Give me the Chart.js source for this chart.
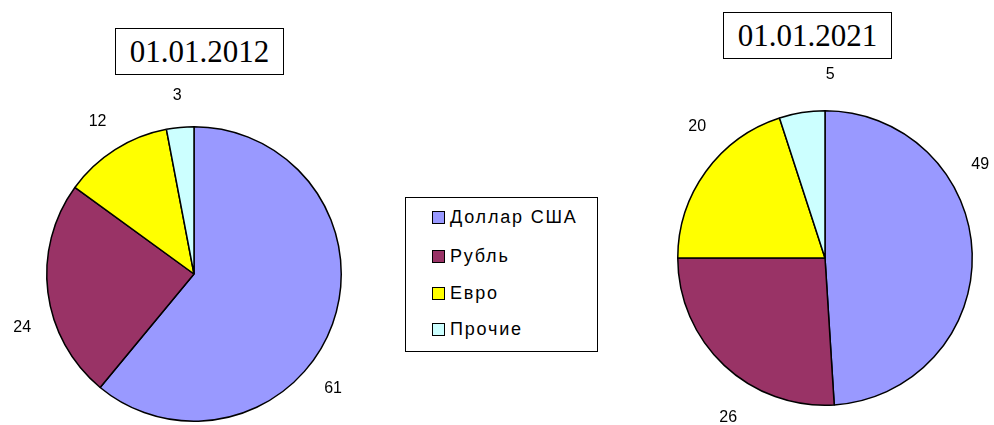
<!DOCTYPE html>
<html>
<head>
<meta charset="utf-8">
<script src="https://cdn.jsdelivr.net/npm/chart.js@4"></script>
<style>
  body { margin: 0; background: #fff; width: 994px; height: 425px; overflow: hidden; position: relative; font-family: "Liberation Sans", Arial, sans-serif; }
  .wrap { position: absolute; width: 400px; height: 400px; }
  .title { position: absolute; border: 1.5px solid #000; font-family: "Liberation Serif", "Times New Roman", serif; font-size: 31px; text-align: center; box-sizing: border-box; width: 169px; height: 47px; line-height: 45px; background: #fff; }
  .legend { position: absolute; left: 405px; top: 197px; width: 193px; height: 155px; border: 1.5px solid #000; box-sizing: border-box; }
  .legend div { position: absolute; left: 26px; font-size: 18px; letter-spacing: 1.8px; height: 22px; line-height: 22px; white-space: nowrap; }
  .legend span { display: inline-block; width: 11px; height: 11px; border: 1.5px solid #000; margin-right: 5px; vertical-align: -1px; }
</style>
</head>
<body>
<div class="wrap" style="left:-6px; top:74px;"><canvas id="chart2012" width="400" height="400"></canvas></div>
<div class="wrap" style="left:625px; top:58px;"><canvas id="chart2021" width="400" height="400"></canvas></div>
<div class="title" style="left:115px; top:28px;">01.01.2012</div>
<div class="title" style="left:723px; top:12px;">01.01.2021</div>
<div class="legend" id="legend"></div>
<script>
const currencies = ['Доллар США', 'Рубль', 'Евро', 'Прочие'];
const shares2012 = [61, 24, 12, 3];
const shares2021 = [49, 26, 20, 5];
const colors = ['#9999ff', '#993366', '#ffff00', '#ccffff'];

// label placement tweaks (degrees shift from mid angle, distance from centre)
const labelPlugin = {
  id: 'sliceLabels',
  afterDatasetsDraw(chart, args, opts) {
    const ctx = chart.ctx;
    const meta = chart.getDatasetMeta(0);
    ctx.save();
    ctx.font = '16px "Liberation Sans", Arial, sans-serif';
    ctx.fillStyle = '#000';
    ctx.textAlign = 'center';
    ctx.textBaseline = 'middle';
    meta.data.forEach((arc, i) => {
      const a = (arc.startAngle + arc.endAngle) / 2 + opts.shift[i] * Math.PI / 180;
      const d = opts.dist[i];
      ctx.fillText(chart.data.datasets[0].data[i], arc.x + d * Math.cos(a), arc.y + d * Math.sin(a));
    });
    ctx.restore();
  }
};

function makePie(id, values, shift, dist) {
  return new Chart(document.getElementById(id), {
    type: 'pie',
    data: {
      labels: currencies,
      datasets: [{
        data: values,
        backgroundColor: colors,
        borderColor: '#000',
        borderWidth: 1.5
      }]
    },
    options: {
      responsive: false,
      animation: false,
      layout: { padding: 52 },
      events: [],
      plugins: {
        legend: { display: false },
        tooltip: { enabled: false },
        sliceLabels: { shift: shift, dist: dist }
      }
    },
    plugins: [labelPlugin]
  });
}

makePie('chart2012', shares2012, [19.6, -10.2, 0, 0], [180, 180, 180, 179]);
makePie('chart2021', shares2021, [-29.2, -12, 9.7, 10.6], [181, 187, 183, 183]);

const legend = document.getElementById('legend');
const rowTops = [8, 47, 84, 120];
currencies.forEach((name, i) => {
  const row = document.createElement('div');
  row.style.top = rowTops[i] + 'px';
  row.innerHTML = `<span style="background:${colors[i]}"></span>${name}`;
  legend.appendChild(row);
});
</script>
</body>
</html>
